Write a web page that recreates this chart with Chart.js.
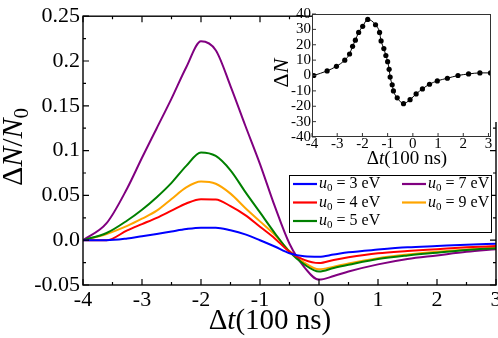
<!DOCTYPE html>
<html>
<head>
<meta charset="utf-8">
<script src="https://cdn.jsdelivr.net/npm/chart.js@4.4.1/dist/chart.umd.min.js"></script>
<style>
  html, body { margin: 0; padding: 0; background: #fff; }
  #wrap { position: relative; width: 498px; height: 338px; }
  #mainChart { position: absolute; left: 0; top: 0; }
  #insetChart { position: absolute; left: 262px; top: 0; }
</style>
</head>
<body>
<div id="wrap">
  <canvas id="mainChart" width="498" height="338"></canvas>
  <canvas id="insetChart" width="236" height="170"></canvas>
</div>
<script>
// main plot: time in units of 100 ns
const timeSteps = [-4, -3.6, -3.25, -3, -2.75, -2.5, -2.25, -2, -1.75, -1.5, -1.25, -1, -0.75, -0.5, -0.25, 0, 0.25, 0.5, 1, 1.5, 2, 2.5, 3];

// relative change dN/N0 for each u0
const u0_3eV = [0, 0, 0.002, 0.0045, 0.007, 0.0098, 0.0125, 0.014, 0.014, 0.011, 0.0065, 0.0, -0.007, -0.0145, -0.018, -0.0185, -0.016, -0.0135, -0.0105, -0.008, -0.0065, -0.005, -0.004];
const u0_4eV = [0, 0, 0.011, 0.018, 0.025, 0.033, 0.041, 0.0458, 0.0455, 0.038, 0.028, 0.015, 0.002, -0.013, -0.022, -0.0255, -0.022, -0.019, -0.0145, -0.012, -0.01, -0.008, -0.0065];
const u0_5eV = [0, 0.008, 0.022, 0.034, 0.048, 0.064, 0.083, 0.098, 0.094, 0.078, 0.054, 0.031, 0.008, -0.013, -0.027, -0.035, -0.031, -0.0275, -0.021, -0.017, -0.014, -0.011, -0.009];
const u0_7eV = [0, 0.019, 0.058, 0.092, 0.125, 0.158, 0.193, 0.222, 0.212, 0.172, 0.128, 0.085, 0.038, -0.004, -0.03, -0.044, -0.04, -0.035, -0.027, -0.021, -0.017, -0.013, -0.01];
const u0_9eV = [0, 0.007, 0.016, 0.024, 0.033, 0.046, 0.059, 0.0655, 0.063, 0.052, 0.036, 0.021, 0.006, -0.012, -0.025, -0.0325, -0.0295, -0.026, -0.02, -0.016, -0.013, -0.0105, -0.008];

const energies = [3, 4, 5, 7, 9];
const seriesList = [u0_3eV, u0_4eV, u0_5eV, u0_7eV, u0_9eV];
const seriesColors = ["#0000ff", "#ff0000", "#008000", "#800080", "#ffa500"];

const xTickValues = [-4, -3, -2, -1, 0, 1, 2, 3];
const xTickLabels = ["-4", "-3", "-2", "-1", "0", "1", "2", "3"];
const yTickValues = [-0.05, 0, 0.05, 0.1, 0.15, 0.2, 0.25];
const yTickLabels = ["-0.05", "0.0", "0.05", "0.1", "0.15", "0.2", "0.25"];

// inset: absolute change dN
const insetTime = [-3.93, -3.4, -3.03, -2.7, -2.51, -2.39, -2.28, -2.15, -1.99, -1.79, -1.48, -1.32, -1.26, -1.15, -1.07, -1.0, -0.94, -0.9, -0.82, -0.77, -0.62, -0.37, -0.11, 0.13, 0.38, 0.66, 0.97, 1.37, 1.79, 2.21, 2.66, 3.08];
const insetDN = [0, 3, 6, 10, 14, 19, 23, 28, 32, 36.5, 33, 28, 22.5, 17.5, 13, 9, 4, -1, -6, -10, -14.5, -18.3, -15.7, -12, -8.7, -5.7, -3.5, -1.8, 0, 1, 1.7, 1.7];
const insetXTicks = [-4, -3, -2, -1, 0, 1, 2, 3];
const insetYTicks = [-40, -30, -20, -10, 0, 10, 20, 30, 40];

const SERIF = "'Liberation Serif', 'DejaVu Serif', serif";

function partFont(p, size) {
    const s = p.sub ? Math.round(size * 0.7) : size;
    return (p.it ? "italic " : "") + s + "px " + SERIF;
}

// draws text made of plain / italic / subscript pieces
function drawRich(ctx, parts, x, y, size, align) {
    let total = 0;
    parts.forEach(p => {
        ctx.font = partFont(p, size);
        p.w = ctx.measureText(p.t).width;
        total += p.w;
    });
    let cx = align === "center" ? x - total / 2 : x;
    ctx.textAlign = "left";
    ctx.textBaseline = "middle";
    parts.forEach(p => {
        ctx.font = partFont(p, size);
        ctx.fillText(p.t, cx, y + (p.sub ? size * 0.28 : 0));
        cx += p.w;
    });
}

function drawTicks(ctx, scale, vertical, area, len, minorLen, bothSides) {
    const ticks = scale.ticks;
    ctx.beginPath();
    ticks.forEach((t, i) => {
        const vals = [[t.value, len]];
        if (minorLen && i < ticks.length - 1) vals.push([(t.value + ticks[i + 1].value) / 2, minorLen]);
        vals.forEach(([v, l]) => {
            const p = scale.getPixelForValue(v);
            if (vertical) {
                ctx.moveTo(area.left, p); ctx.lineTo(area.left + l, p);
                if (bothSides) { ctx.moveTo(area.right, p); ctx.lineTo(area.right - l, p); }
            } else {
                ctx.moveTo(p, area.bottom); ctx.lineTo(p, area.bottom - l);
                if (bothSides) { ctx.moveTo(p, area.top); ctx.lineTo(p, area.top + l); }
            }
        });
    });
    ctx.stroke();
}

const mainDecor = {
    id: "mainDecor",
    afterDraw(chart) {
        const { ctx, chartArea: a, scales } = chart;
        ctx.save();
        ctx.strokeStyle = "#000";
        ctx.fillStyle = "#000";
        ctx.lineWidth = 1.4;
        ctx.strokeRect(a.left, a.top, a.right - a.left, a.bottom - a.top);
        ctx.lineWidth = 1.2;
        drawTicks(ctx, scales.x, false, a, 6, 3, true);
        drawTicks(ctx, scales.y, true, a, 6, 3, true);

        // white area behind the inset figure
        ctx.fillStyle = "#fff";
        ctx.fillRect(334, 0, 164, 122);
        ctx.fillStyle = "#000";

        // axis titles
        drawRich(ctx, [{ t: "\u0394" }, { t: "t", it: true }, { t: "(100 ns)" }], 270, 321, 29, "center");
        ctx.save();
        ctx.translate(14, 147);
        ctx.rotate(-Math.PI / 2);
        drawRich(ctx, [{ t: "\u0394" }, { t: "N", it: true }, { t: "/" }, { t: "N", it: true }, { t: "0", sub: true }], 0, 0, 30, "center");
        ctx.restore();

        // legend
        const box = { l: 289, t: 175, r: 491, b: 232 };
        ctx.fillStyle = "#fff";
        ctx.fillRect(box.l, box.t, box.r - box.l, box.b - box.t);
        ctx.lineWidth = 1;
        ctx.strokeStyle = "#000";
        ctx.strokeRect(box.l + 0.5, box.t + 0.5, box.r - box.l, box.b - box.t);
        const colX = [293, 402];
        const rowY = [184, 202.5, 221];
        const slots = [[0, 0], [0, 1], [0, 2], [1, 0], [1, 1]];
        energies.forEach((e, i) => {
            const [c, r] = slots[i];
            ctx.strokeStyle = seriesColors[i];
            ctx.lineWidth = 2.2;
            ctx.beginPath();
            ctx.moveTo(colX[c], rowY[r]);
            ctx.lineTo(colX[c] + 24, rowY[r]);
            ctx.stroke();
            ctx.fillStyle = "#000";
            drawRich(ctx, [{ t: "u", it: true }, { t: "0", sub: true }, { t: " = " + e + " eV" }], colX[c] + 26, rowY[r], 16, "left");
        });
        ctx.restore();
    }
};

const tickFont = { family: SERIF, size: 22 };

new Chart(document.getElementById("mainChart"), {
    type: "line",
    data: {
        datasets: seriesList.map((s, i) => ({
            label: "u\u2080 = " + energies[i] + " eV",
            data: timeSteps.map((t, j) => ({ x: t, y: s[j] })),
            borderColor: seriesColors[i],
            borderWidth: 2,
            pointRadius: 0,
            cubicInterpolationMode: "monotone",
            fill: false
        }))
    },
    options: {
        responsive: false,
        animation: false,
        layout: { padding: { left: 0, top: 8, right: 2, bottom: 0 } },
        plugins: { legend: { display: false }, tooltip: { enabled: false } },
        scales: {
            x: {
                type: "linear", min: -4, max: 3,
                afterBuildTicks: s => { s.ticks = xTickValues.map(v => ({ value: v })); },
                ticks: { callback: (v, i) => xTickLabels[i], font: tickFont, color: "#000", padding: 2, maxRotation: 0, autoSkip: false },
                grid: { display: false, drawTicks: false },
                border: { display: false },
                afterFit: s => { s.height = 53; s.paddingLeft = 0; s.paddingRight = 0; }
            },
            y: {
                min: -0.05, max: 0.25,
                afterBuildTicks: s => { s.ticks = yTickValues.map(v => ({ value: v })); },
                ticks: { callback: (v, i) => yTickLabels[i], font: tickFont, color: "#000", padding: 3, autoSkip: false },
                grid: { display: false, drawTicks: false },
                border: { display: false },
                afterFit: s => { s.width = 83; }
            }
        }
    },
    plugins: [mainDecor]
});

const insetDecor = {
    id: "insetDecor",
    beforeDraw(chart) {
        const { ctx, chartArea: a } = chart;
        ctx.save();
        ctx.fillStyle = "#fff";
        ctx.fillRect(a.left, a.top, a.right - a.left, a.bottom - a.top);
        ctx.restore();
    },
    afterDraw(chart) {
        const { ctx, chartArea: a, scales } = chart;
        ctx.save();
        ctx.strokeStyle = "#333";
        ctx.fillStyle = "#000";
        ctx.lineWidth = 1;
        ctx.strokeRect(a.left + 0.5, a.top + 0.5, a.right - a.left - 1, a.bottom - a.top - 1);
        drawTicks(ctx, scales.x, false, a, 4, 0, false);
        drawTicks(ctx, scales.y, true, a, 4, 0, false);
        drawRich(ctx, [{ t: "\u0394" }, { t: "t", it: true }, { t: "(100 ns)" }], 145, 159, 19, "center");
        ctx.save();
        ctx.translate(20, 73);
        ctx.rotate(-Math.PI / 2);
        drawRich(ctx, [{ t: "\u0394" }, { t: "N", it: true }], 0, 0, 22, "center");
        ctx.restore();
        ctx.restore();
    }
};

const insetFont = { family: SERIF, size: 15 };

new Chart(document.getElementById("insetChart"), {
    type: "line",
    data: {
        datasets: [{
            label: "dN",
            data: insetTime.map((t, i) => ({ x: t, y: insetDN[i] })),
            borderColor: "#000",
            borderWidth: 1,
            pointRadius: 2.6,
            pointBackgroundColor: "#000",
            pointBorderWidth: 0,
            cubicInterpolationMode: "monotone"
        }]
    },
    options: {
        responsive: false,
        animation: false,
        layout: { padding: { left: 0, top: 14, right: 7, bottom: 0 } },
        plugins: { legend: { display: false }, tooltip: { enabled: false } },
        scales: {
            x: {
                type: "linear", min: -4, max: 3.1,
                afterBuildTicks: s => { s.ticks = insetXTicks.map(v => ({ value: v })); },
                ticks: { font: insetFont, color: "#000", padding: -2, maxRotation: 0, autoSkip: false },
                grid: { display: false, drawTicks: false },
                border: { display: false },
                afterFit: s => { s.height = 33; s.paddingLeft = 0; s.paddingRight = 0; }
            },
            y: {
                min: -40, max: 40,
                afterBuildTicks: s => { s.ticks = insetYTicks.map(v => ({ value: v })); },
                ticks: { font: insetFont, color: "#000", padding: 1, autoSkip: false },
                grid: { display: false, drawTicks: false },
                border: { display: false },
                afterFit: s => { s.width = 50; s.paddingTop = 0; s.paddingBottom = 0; }
            }
        }
    },
    plugins: [insetDecor]
});
</script>
</body>
</html>
